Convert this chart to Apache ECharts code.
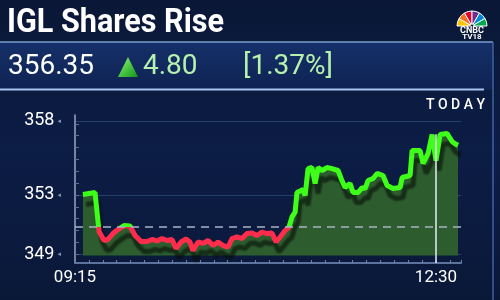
<!DOCTYPE html>
<html><head><meta charset="utf-8">
<script src="https://cdn.jsdelivr.net/npm/echarts@6/dist/echarts.min.js"></script>
<style>html,body{margin:0;padding:0;background:#0b1a3f;}#c{width:500px;height:300px;}</style>
</head><body><div id="c"></div>
<script>
// ---- texts ----
const titleText = 'IGL Shares Rise';
const lastPrice = '356.35';
const changeText = '4.80';
const changePctText = '[1.37%]';
const periodLabel = 'T O D A Y';
// ---- data: minutes after 09:15 and price ----
const minutes = [4.3, 10.8, 13.0, 15.7, 17.8, 20.5, 23.2, 26.5, 29.7, 32.4,
  35.7, 38.9, 41.6, 44.3, 47.0, 49.7, 52.4, 54.6, 57.3, 60.0,
  62.1, 63.7, 66.5, 69.2, 71.9, 74.6, 77.3, 80.0, 82.7, 84.8,
  87.5, 90.2, 92.9, 95.6, 98.3, 101.0, 103.7, 106.4, 108.6, 110.8,
  113.5, 115.6, 117.2, 118.9, 119.9, 123.2, 124.3, 125.9, 128.0, 129.7,
  131.3, 133.4, 136.1, 138.8, 142.1, 144.2, 145.9, 148.6, 150.2, 152.9,
  155.1, 156.7, 158.3, 161.0, 163.2, 166.4, 168.6, 171.8, 175.6, 176.7,
  181.0, 182.1, 186.4, 188.0, 190.7, 192.9, 195.0, 197.2, 201.0, 203.7,
  205.3, 206.9];
const prices = [353.03, 353.16, 350.53, 349.92, 349.99, 350.39, 350.66, 350.93, 350.90, 350.26,
  349.85, 349.85, 349.99, 349.89, 350.05, 349.92, 349.99, 349.38, 349.82, 350.02,
  349.82, 349.24, 349.82, 349.72, 349.92, 349.58, 349.82, 349.58, 349.48, 350.05,
  350.16, 350.05, 350.39, 350.43, 350.26, 350.49, 350.39, 350.43, 349.82, 350.16,
  350.59, 350.83, 351.51, 351.84, 353.16, 353.36, 352.96, 354.78, 354.85, 353.77,
  354.85, 354.65, 354.85, 354.78, 354.65, 353.97, 353.50, 353.77, 353.16, 353.16,
  353.50, 353.43, 353.97, 354.11, 354.45, 354.31, 353.64, 353.43, 353.50, 354.18,
  354.31, 356.00, 356.00, 355.12, 355.80, 357.08, 355.32, 357.08, 357.15, 356.61,
  356.45, 356.35];
const yLabelValues = [349, 353, 358];
const yMinorTicks = [349, 349.8, 350.6, 351.4, 352.2, 353, 353.8, 354.6, 355.4, 356.2, 357, 357.8];
const xLabelValues = [0, 195];          // 09:15, 12:30
const baseline = 350.86;                // dashed reference level
const markerMinute = 195;               // 12:30 vertical marker
const markerTop = 357.1;

const fmtTime = v => { const t = 9 * 60 + 15 + Math.round(v); const h = Math.floor(t / 60), m = t % 60; return String(h).padStart(2, '0') + ':' + String(m).padStart(2, '0'); };
const seriesData = minutes.map((m, i) => [m, prices[i]]);

const chart = echarts.init(document.getElementById('c'), null, { renderer: 'canvas' });
const white = '#ffffff', lightGreen = '#b6f2ae';
const feathers = ['#f7c600', '#f37021', '#e4002b', '#6e2c8f', '#0089d0', '#00a94f'];

chart.setOption({
  backgroundColor: {
    type: 'linear', x: 0, y: 0, x2: 0, y2: 1,
    colorStops: [{ offset: 0, color: '#0a1736' }, { offset: 0.5, color: '#0c1d46' }, { offset: 1, color: '#0a1838' }]
  },
  animation: false,
  grid: { left: 75, right: 39, top: 115, bottom: 37 },
  xAxis: {
    type: 'value', min: 0, max: 208.5, interval: 7.5,
    axisLine: { show: true, lineStyle: { color: '#5d729c', width: 2 } },
    axisTick: { show: true, inside: true, length: 3, lineStyle: { color: '#6f82a8' } },
    splitLine: { show: false },
    axisLabel: { customValues: xLabelValues, formatter: fmtTime, color: white, fontSize: 17, fontFamily: 'Roboto', margin: 6 }
  },
  yAxis: [{
    type: 'value', min: 348.4, max: 358.4,
    axisLine: { show: true, lineStyle: { color: '#9aa6c0', width: 1.5 } },
    axisTick: { show: false, customValues: yLabelValues },
    splitLine: { show: true, lineStyle: { color: '#26406c', width: 1 } },
    axisLabel: {
      customValues: yLabelValues, margin: 14,
      formatter: v => '{v|' + v + '}{m|◂}',
      rich: {
        v: { color: white, fontSize: 18, fontFamily: 'Roboto' },
        m: { color: '#8393b2', fontSize: 7, fontFamily: 'DejaVu Sans', padding: [0, 0, 0, 3] }
      }
    }
  }, {
    type: 'value', min: 348.4, max: 358.4, position: 'left',
    axisLine: { show: false },
    axisTick: { show: true, inside: true, length: 4, customValues: yMinorTicks, lineStyle: { color: '#5f7098' } },
    splitLine: { show: false },
    axisLabel: { show: false }
  }],
  visualMap: {
    type: 'piecewise', show: false, dimension: 1, seriesIndex: 1,
    pieces: [{ gte: 340, lt: baseline, color: '#ff2d4b' }, { gte: baseline, lte: 370, color: '#3dff17' }]
  },
  series: [{
    type: 'line', data: seriesData, symbol: 'none', z: 2,
    lineStyle: { width: 0 },
    areaStyle: { color: '#2d5d2f', opacity: 1, origin: 348.9 },
    markLine: {
      silent: true, symbol: 'none', label: { show: false },
      data: [
        { yAxis: baseline, lineStyle: { color: '#a9b4c6', type: [8, 6], width: 1.5 } },
        [{ coord: [markerMinute, markerTop], lineStyle: { color: '#e8ecf2', type: 'solid', width: 1.5 } },
         { coord: [markerMinute, 348.4] }]
      ]
    }
  }, {
    type: 'line', data: seriesData, symbol: 'none', z: 3,
    lineStyle: { width: 5, shadowColor: 'rgba(5,12,5,0.6)', shadowOffsetX: 3, shadowOffsetY: 10, shadowBlur: 2 }
  }],
  graphic: [
    { type: 'rect', z: -1, shape: { x: 0, y: 42, width: 493, height: 48 },
      style: { fill: { type: 'linear', x: 0, y: 0, x2: 0, y2: 1, colorStops: [{ offset: 0, color: '#15306a' }, { offset: 1, color: '#0f2352' }] } } },
    { type: 'line', shape: { x1: 0, y1: 42, x2: 493, y2: 42 }, style: { stroke: '#7d9ccc', lineWidth: 1.5 } },
    { type: 'line', shape: { x1: 0, y1: 89.5, x2: 484, y2: 89.5 }, style: { stroke: '#a9c3ee', lineWidth: 2 } },
    { type: 'line', shape: { x1: 493, y1: 42, x2: 493, y2: 300 }, style: { stroke: '#3f62a0', lineWidth: 1.5 } },
    { type: 'text', x: 7, y: 23, scaleX: 0.9, style: { text: titleText, font: 'bold 34px Roboto', fill: white, verticalAlign: 'middle' } },
    { type: 'text', x: 8, y: 67, style: { text: lastPrice, font: '28px Roboto', fill: white, verticalAlign: 'middle' } },
    { type: 'polygon', shape: { points: [[118, 77], [128, 57], [138, 77]] },
      style: { fill: { type: 'linear', x: 0, y: 0, x2: 1, y2: 1, colorStops: [{ offset: 0, color: '#8aff70' }, { offset: 1, color: '#13901c' }] } } },
    { type: 'text', x: 143, y: 67, style: { text: changeText, font: '28px Roboto', fill: lightGreen, verticalAlign: 'middle' } },
    { type: 'text', x: 243, y: 67, style: { text: changePctText, font: '28px Roboto', fill: lightGreen, verticalAlign: 'middle' } },
    { type: 'text', x: 485, y: 105, style: { text: periodLabel, font: '500 14px Roboto', fill: white, align: 'right', verticalAlign: 'middle' } },
    ...feathers.map((c, i) => ({
      type: 'sector', shape: { cx: 472, cy: 26, r0: 2, r: 15, startAngle: Math.PI + i * Math.PI / 6, endAngle: Math.PI + (i + 1) * Math.PI / 6 },
      style: { fill: c, stroke: '#ffffff', lineWidth: 1 }
    })),
    { type: 'text', x: 472, y: 30.5, style: { text: 'CNBC', font: 'bold 9px Roboto', fill: white, align: 'center', verticalAlign: 'middle' } },
    { type: 'text', x: 472, y: 37, style: { text: 'TV18', font: 'bold 8px Roboto', fill: white, align: 'center', verticalAlign: 'middle' } }
  ]
});
</script>
</body></html>
